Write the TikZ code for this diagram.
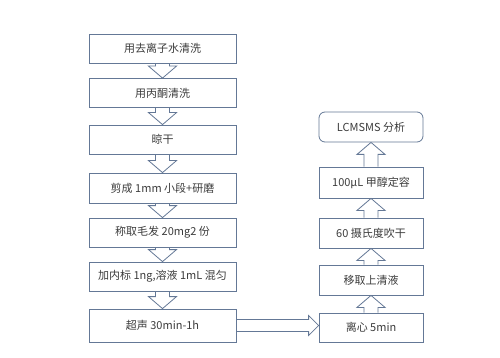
\documentclass[tikz,border=0pt]{standalone}
\usepackage{fontspec}
\setmainfont{Noto Sans CJK SC}
\usetikzlibrary{calc}
\definecolor{edge}{RGB}{100,120,150}
\definecolor{txt}{RGB}{60,60,60}
\tikzset{
  x=1pt,y=1pt,
  boxL/.style={draw=edge,line width=0.8pt,minimum width=147pt,minimum height=29pt,inner sep=0pt,font=\fontsize{11}{13}\selectfont,text=txt},
  boxR/.style={draw=edge,line width=0.8pt,minimum width=104pt,minimum height=30pt,inner sep=0pt,font=\fontsize{11}{13}\selectfont,text=txt},
  blockarr/.style={draw=edge,line width=0.8pt,line join=miter}
}
\newcommand\arrdown[2]{%
  \draw[blockarr] let \p1=(#1.south), \p2=(#2.north) in
    (\x1-7pt,\y1) -- (\x1-7pt,\y2+12pt) -- (\x1-14pt,\y2+12pt) -- (\x1,\y2)
    -- (\x1+14pt,\y2+12pt) -- (\x1+7pt,\y2+12pt) -- (\x1+7pt,\y1);}
\newcommand\arrup[2]{%
  \draw[blockarr] let \p1=(#1.north), \p2=(#2.south) in
    (\x1-7pt,\y1) -- (\x1-7pt,\y2-12pt) -- (\x1-14pt,\y2-12pt) -- (\x1,\y2)
    -- (\x1+14pt,\y2-12pt) -- (\x1+7pt,\y2-12pt) -- (\x1+7pt,\y1);}
\newcommand\arrright[2]{%
  \draw[blockarr] let \p1=(#1.east), \p2=(#2.west) in
    (\x1,\y1+6pt) -- (\x2-10pt,\y1+6pt) -- (\x2-10pt,\y1+10pt) -- (\x2,\y1)
    -- (\x2-10pt,\y1-10pt) -- (\x2-10pt,\y1-6pt) -- (\x1,\y1-6pt);}
\begin{document}
\begin{tikzpicture}
\useasboundingbox[fill=white] (0,0) rectangle (500,-358);
% left column
\node[boxL] (b1) at (162.5,-48.5) {用去离子水清洗};
\node[boxL] (b2) at (162.5,-93) {用丙酮清洗};
\node[boxL] (b3) at (162.5,-139.5) {晾干};
\node[boxL,minimum height=30pt] (b4) at (162.5,-188) {剪成 1mm 小段+研磨};
\node[boxL] (b5) at (162.5,-232.5) {称取毛发 20mg2 份};
\node[boxL] (b6) at (162.5,-276.5) {加内标 1ng,溶液 1mL 混匀};
\node[boxL,minimum height=33pt] (b7) at (162.5,-325.5) {超声 30min-1h};
% right column
\node[boxR,rounded corners=6pt] (r0) at (371,-127) {LCMSMS 分析};
\node[boxR,minimum height=31pt] (r1) at (371,-182.5) {100μL 甲醇定容};
\node[boxR] (r2) at (371,-233) {60 摄氏度吹干};
\node[boxR] (r3) at (371,-280) {移取上清液};
\node[boxR,minimum height=29pt] (r4) at (371,-327.5) {离心 5min};
% arrows
\arrdown{b1}{b2}
\arrdown{b2}{b3}
\arrdown{b3}{b4}
\arrdown{b4}{b5}
\arrdown{b5}{b6}
\arrdown{b6}{b7}
\arrright{b7}{r4}
\arrup{r4}{r3}
\arrup{r3}{r2}
\arrup{r2}{r1}
\arrup{r1}{r0}
\end{tikzpicture}
\end{document}
